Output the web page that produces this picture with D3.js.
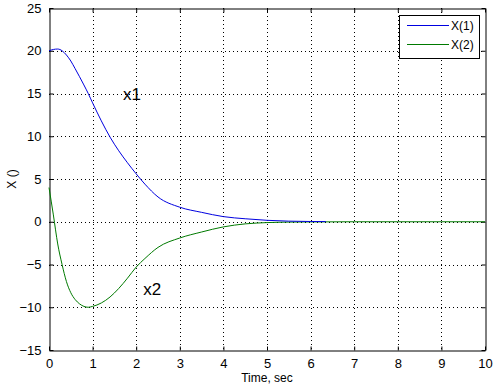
<!DOCTYPE html>
<html>
<head>
<meta charset="utf-8">
<script src="https://cdn.jsdelivr.net/npm/d3@7"></script>
<style>
  body { margin: 0; background: #fff; }
  svg text { font-family: "Liberation Sans", Arial, sans-serif; fill: #000; }
</style>
</head>
<body>
<div id="chart"></div>
<script>
// values
var t1 = [0, 0.1, 0.2, 0.3, 0.4, 0.5, 0.6, 0.8, 0.9, 1.0, 1.2, 1.4, 1.6, 1.8, 2.0, 2.2, 2.5, 3.0, 3.5, 4.0, 4.5, 5.0, 5.5, 6.0, 6.35]
var x1 = [20.0, 20.15, 20.2, 20.0, 19.5, 18.8, 17.9, 16.0, 15.0, 13.9, 11.8, 9.9, 8.3, 6.9, 5.6, 4.4, 2.9, 1.7, 1.1, 0.6, 0.35, 0.17, 0.07, 0.03, 0.02]
var t2 = [0, 0.1, 0.2, 0.3, 0.4, 0.5, 0.6, 0.7, 0.8, 0.9, 1.0, 1.2, 1.4, 1.6, 1.8, 2.0, 2.2, 2.5, 3.0, 3.5, 4.0, 4.5, 5.0, 5.5, 6.0, 7.0, 8.0, 9.0, 10.0]
var x2 = [4.0, 0.8, -2.6, -5.0, -7.0, -8.3, -9.1, -9.6, -9.9, -10.0, -9.9, -9.5, -8.8, -7.8, -6.6, -5.3, -4.3, -3.0, -1.9, -1.2, -0.6, -0.25, -0.1, -0.04, -0.02, 0, 0, 0, 0]
var xTicks = [0, 1, 2, 3, 4, 5, 6, 7, 8, 9, 10]
var yTicks = [-15, -10, -5, 0, 5, 10, 15, 20, 25]
var legendNames = ["X(1)", "X(2)"]
var colors = ["#0000e0", "#007a00"]

var width = 499,
    height = 391
var padL = 49, padR = 485, padT = 8, padB = 350

var svg = d3.select("#chart")
  .append("svg")
    .attr("width", width)
    .attr("height", height)

var x = d3.scaleLinear().domain([0, 10]).range([padL, padR])
var y = d3.scaleLinear().domain([-15, 25]).range([padB, padT])

// dotted grid
svg.append("g")
  .selectAll("line")
  .data(xTicks.slice(1, -1))
  .enter().append("line")
    .attr("x1", d => Math.round(x(d)) + 0.5).attr("x2", d => Math.round(x(d)) + 0.5)
    .attr("y1", padT).attr("y2", padB)
    .attr("stroke", "#000").attr("stroke-dasharray", "1,3")
svg.append("g")
  .selectAll("line")
  .data(yTicks.slice(1, -1))
  .enter().append("line")
    .attr("y1", d => Math.round(y(d)) + 0.5).attr("y2", d => Math.round(y(d)) + 0.5)
    .attr("x1", padL).attr("x2", padR)
    .attr("stroke", "#000").attr("stroke-dasharray", "1,3")

// axes, ticks pointing inward like matlab
var xAxis = svg.append("g")
  .attr("transform", "translate(0," + (padB + 0.5) + ")")
  .call(d3.axisBottom(x).tickValues(xTicks).tickSizeInner(-4).tickSizeOuter(0).tickPadding(8))
xAxis.selectAll("text").style("font-size", "13px")
var yAxis = svg.append("g")
  .attr("transform", "translate(" + (padL + 0.5) + ",0)")
  .call(d3.axisLeft(y).tickValues(yTicks).tickSizeInner(-4).tickSizeOuter(0).tickPadding(8))
yAxis.selectAll("text").style("font-size", "13px")
svg.append("g")
  .attr("transform", "translate(0," + (padT + 0.5) + ")")
  .call(d3.axisTop(x).tickValues(xTicks).tickSizeInner(-4).tickSizeOuter(0).tickFormat(""))
svg.append("g")
  .attr("transform", "translate(" + (padR + 0.5) + ",0)")
  .call(d3.axisRight(y).tickValues(yTicks).tickSizeInner(-4).tickSizeOuter(0).tickFormat(""))
svg.selectAll(".domain").attr("stroke", "#000")

// curves
var line = d3.line()
  .x(d => x(d[0]))
  .y(d => y(d[1]))
  .curve(d3.curveMonotoneX)
svg.append("path")
  .datum(t2.map((t, i) => [t, x2[i]]))
  .attr("d", line)
  .attr("fill", "none").attr("stroke", colors[1]).attr("stroke-width", 1)
svg.append("path")
  .datum(t1.map((t, i) => [t, x1[i]]))
  .attr("d", line)
  .attr("fill", "none").attr("stroke", colors[0]).attr("stroke-width", 1)

// annotations
svg.append("text").attr("x", x(1.7)).attr("y", y(14.2)).text("x1").style("font-size", "17px")
svg.append("text").attr("x", x(2.16)).attr("y", y(-8.6)).text("x2").style("font-size", "17px")

// labels
svg.append("text")
  .attr("x", (padL + padR) / 2).attr("y", 382)
  .attr("text-anchor", "middle")
  .style("font-size", "12px")
  .text("Time, sec")
svg.append("text")
  .attr("transform", "translate(16," + 179 + ") rotate(-90)")
  .attr("text-anchor", "middle")
  .style("font-size", "12px")
  .text("X ()")

// legend
var lg = svg.append("g")
lg.append("rect")
  .attr("x", 399.5).attr("y", 15.5).attr("width", 80).attr("height", 43)
  .attr("fill", "#fff").attr("stroke", "#000")
legendNames.forEach(function(name, i) {
  var ly = 25.5 + i * 19
  lg.append("line")
    .attr("x1", 407).attr("x2", 449).attr("y1", ly).attr("y2", ly)
    .attr("stroke", colors[i])
  lg.append("text")
    .attr("x", 451).attr("y", ly + 4.5)
    .style("font-size", "12px")
    .text(name)
})
</script>
</body>
</html>
